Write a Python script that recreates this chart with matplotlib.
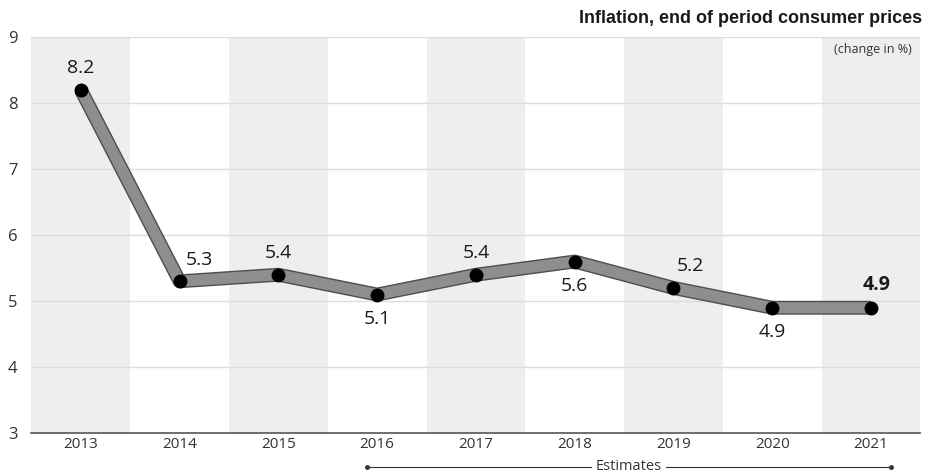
import matplotlib
matplotlib.use("Agg")
import matplotlib.pyplot as plt
import matplotlib.patheffects as pe

years = ["2013", "2014", "2015", "2016", "2017", "2018", "2019", "2020", "2021"]
inflation = [8.2, 5.3, 5.4, 5.1, 5.4, 5.6, 5.2, 4.9, 4.9]
label_pos = ["above", "above", "above", "below", "above", "below", "above", "below", "above"]
label_dx = [0, 14, 0, 0, 0, 0, 12, 0, 4]
y_ticks = [3, 4, 5, 6, 7, 8, 9]

plt.rcParams["font.family"] = ["Open Sans", "DejaVu Sans"]
sans = ["Liberation Sans", "DejaVu Sans"]

fig = plt.figure(figsize=(9.25, 4.75), dpi=100)
ax = fig.add_axes([0.034, 0.088, 0.961, 0.834])

x = list(range(len(years)))
for i in x:
    if i % 2 == 0:
        ax.axvspan(i - 0.5, i + 0.5, color="#eeeeee", lw=0, zorder=0)

for yv in y_ticks[1:]:
    ax.axhline(yv, color="#dddddd", lw=1, zorder=1)

ax.plot(x, inflation, color="#8e8e8e", lw=8, solid_capstyle="butt", zorder=3,
        path_effects=[pe.Stroke(linewidth=10, foreground="#4d4d4d"), pe.Normal()])
ax.plot(x, inflation, "o", color="black", ms=9, zorder=4)

for i, (v, pos) in enumerate(zip(inflation, label_pos)):
    dy = 9 if pos == "above" else -11
    va = "bottom" if pos == "above" else "top"
    weight = "bold" if i == len(years) - 1 else "normal"
    ax.annotate(f"{v:.1f}", (i, v), textcoords="offset points", xytext=(label_dx[i], dy),
                ha="center", va=va, fontsize=14, color="#1a1a1a", fontweight=weight)

ax.set_xlim(-0.5, 8.5)
ax.set_ylim(3, 9)
ax.set_xticks(x)
ax.set_xticklabels(years, fontsize=11, color="#333333")
ax.set_yticks(y_ticks)
ax.set_yticklabels([str(t) for t in y_ticks], fontsize=12, color="#333333")
ax.tick_params(length=0, pad=3)
ax.tick_params(axis="y", pad=10)
for s in ["top", "right", "left"]:
    ax.spines[s].set_visible(False)
ax.spines["bottom"].set_color("#555555")
ax.spines["bottom"].set_linewidth(1.2)

fig.text(0.997, 0.962, "Inflation, end of period consumer prices", ha="right", va="center",
         fontsize=13, fontweight="bold", family=sans, color="#1a1a1a")
fig.text(0.986, 0.895, "(change in %)", ha="right", va="center", fontsize=9,
         color="#333333")

# estimates bracket
trans = ax.get_xaxis_transform()
ax.plot([2.9, 8.2], [-0.085, -0.085], color="#333333", lw=0.8, transform=trans, clip_on=False)
ax.plot([2.9, 8.2], [-0.085, -0.085], "o", ms=2.5, color="#333333",
        transform=trans, clip_on=False)
ax.text(5.55, -0.085, "Estimates", transform=trans, ha="center",
        va="center", fontsize=10.5, color="#333333",
        bbox=dict(facecolor="white", edgecolor="none", pad=3))

fig.savefig("out.png", dpi=100)
